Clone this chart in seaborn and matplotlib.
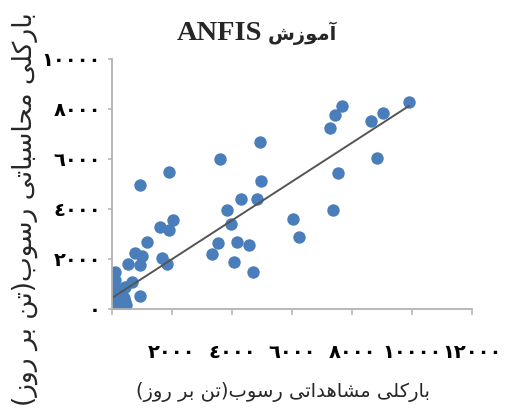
import numpy as np
import pandas as pd
import matplotlib
matplotlib.use("Agg")
import matplotlib.pyplot as plt
from matplotlib.ticker import FuncFormatter
import seaborn as sns

# Observed vs. computed total sediment load (ton/day), ANFIS training set
observed = [9900, 9030, 8630, 7670, 7430, 7270, 8830, 7530, 7370, 6030,
            6230, 4970, 4930, 3600, 1900, 930, 4300, 4830, 3830, 3970,
            2030, 1600, 1900, 3530, 3330, 4170, 4570, 4070, 4700, 1170,
            1670, 1830, 770, 1000, 530, 930, 100, 100, 670, 430,
            930, 170, 30, 200, 70, 300, 430, 10, 130, 330, 230,
            # low-load days clustered near the origin
            20, 40, 60, 80, 100, 120, 140, 160, 180, 200,
            220, 250, 280, 300, 350, 380, 400, 30, 50, 90,
            110, 60, 150, 200, 250, 320, 420, 450, 10, 70,
            130, 170, 230, 270, 330, 360, 120, 90, 40, 190,
            260, 310, 150, 210, 80]
computed = [8280, 7840, 7520, 8120, 7760, 7240, 6040, 5440, 3960, 3600,
            2880, 5120, 6680, 6000, 5480, 4960, 4400, 4400, 3960, 3400,
            3560, 3280, 3160, 2640, 2200, 2680, 2560, 1880, 1480, 2680,
            2040, 1800, 2240, 2120, 1800, 1760, 1480, 1160, 1080, 880,
            520, 760, 520, 360, 160, 120, 240, 40, 0, 480, 680,
            120, 200, 300, 150, 250, 100, 350, 200, 120, 300,
            180, 250, 150, 400, 300, 200, 450, 400, 600, 500,
            650, 800, 550, 700, 500, 550, 300, 150, 250, 100,
            180, 420, 380, 320, 120, 420, 300, 200, 350, 250,
            160, 260, 130, 480, 450]

x_ticks = [0, 2000, 4000, 6000, 8000, 10000, 12000]
y_ticks = [0, 2000, 4000, 6000, 8000, 10000]

# Persian text in visual (left-to-right) order, using presentation forms
BARKOLLI = "\uFEF0\uFEE0\uFEDB\uFEAD\uFE8E\uFE91"
MOSHAHEDATI = "\uFEF0\uFE97\uFE8D\uFEAA\uFEEB\uFE8E\uFEB8\uFEE3"
MOHASEBATI = "\uFEF0\uFE97\uFE8E\uFE92\uFEB3\uFE8E\uFEA4\uFEE3"
ROSUB = "\uFE8F\uFEEE\uFEB3\uFEAD"
UNIT = "(" + "\uFEAF\uFEED\uFEAD" + " " + "\uFEAE\uFE91" + " " + "\uFEE6\uFE97" + ")"
AMUZESH = "\uFEB5\uFEAF\uFEEE\uFEE3\uFE81"

xlabel_text = UNIT + ROSUB + " " + MOSHAHEDATI + " " + BARKOLLI
ylabel_text = UNIT + ROSUB + " " + MOHASEBATI + " " + BARKOLLI

ARABIC_DIGITS = "\u0660\u0661\u0662\u0663\u0664\u0665\u0666\u0667\u0668\u0669"


def to_arabic(v):
    return "".join(ARABIC_DIGITS[int(c)] for c in str(int(round(v))))


df = pd.DataFrame({"observed": observed, "computed": computed})

sns.set_theme(style="white")
plt.rcParams["font.family"] = ["Liberation Serif", "DejaVu Sans"]

fig = plt.figure(figsize=(5.19, 4.12), dpi=100)
ax = fig.add_axes([112 / 519, 103 / 412, 360 / 519, 250 / 412])

marker_color = "#4a7ebb"
sns.regplot(data=df, x="observed", y="computed", ax=ax, ci=None,
            scatter_kws=dict(s=80, color=marker_color, alpha=1, linewidths=0),
            line_kws=dict(color="#555555", lw=1.4))

ax.set_xlim(0, 12000)
ax.set_ylim(0, 10000)
ax.set_xticks(x_ticks)
ax.set_yticks(y_ticks)
ax.xaxis.set_major_formatter(FuncFormatter(lambda v, p: "" if v == 0 else to_arabic(v)))
ax.yaxis.set_major_formatter(FuncFormatter(lambda v, p: to_arabic(v)))
ax.set_xlabel("")
ax.set_ylabel("")

for side in ("top", "right"):
    ax.spines[side].set_visible(False)
for side in ("left", "bottom"):
    ax.spines[side].set_color("#b3b3b3")
    ax.spines[side].set_linewidth(1.3)

ax.tick_params(axis="x", direction="out", length=4, width=1.1, color="#b3b3b3",
               pad=22, labelsize=14, labelcolor="black", bottom=True)
ax.tick_params(axis="y", direction="out", length=3, width=1.1, color="#b3b3b3",
               pad=5, labelsize=14, labelcolor="black", left=True)
for lab in ax.get_xticklabels() + ax.get_yticklabels():
    lab.set_fontweight("bold")

fig.text(262 / 519, 1 - 33 / 412, "ANFIS", ha="right", va="center",
         fontsize=20.5, fontweight="bold", family=["Liberation Serif"])
fig.text(268 / 519, 1 - 33 / 412, AMUZESH, ha="left", va="center",
         fontsize=14, fontweight="bold", family=["DejaVu Sans"])
fig.text(283 / 519, 20 / 412, xlabel_text, ha="center", va="center",
         fontsize=14, family=["DejaVu Sans"])
fig.text(25 / 519, 0.493, ylabel_text, ha="center", va="center", rotation=90,
         fontsize=19, family=["DejaVu Sans"])

fig.savefig("out.png", dpi=100)
